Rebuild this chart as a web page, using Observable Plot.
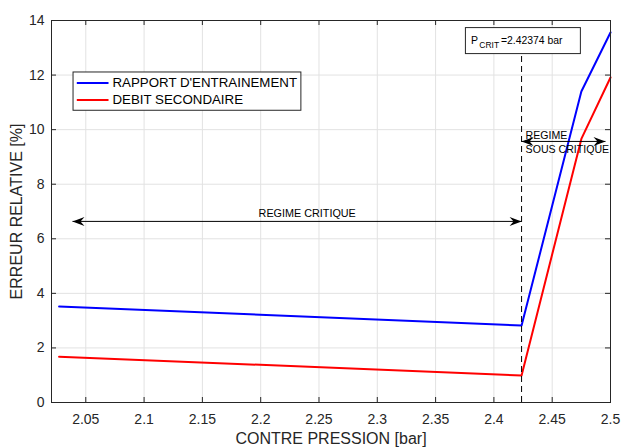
<!DOCTYPE html>
<html>
<head>
<meta charset="utf-8">
<script src="https://cdn.jsdelivr.net/npm/d3@7"></script>
<script src="https://cdn.jsdelivr.net/npm/@observablehq/plot@0.6"></script>
<style>
  html, body { margin: 0; padding: 0; background: #fff; }
  #chart { width: 621px; height: 448px; }
</style>
</head>
<body>
<div id="chart"></div>
<script>
// Back pressure (bar) and relative error (%) of the two quantities
const pression = [2.0271, 2.42374, 2.475, 2.5];
const rapportEntrainement = [3.52, 2.82, 11.40, 13.56];
const debitSecondaire = [1.68, 0.99, 9.66, 11.91];

// Critical back pressure
const pCrit = 2.42374;

// Axis ticks
const xTicks = [2.05, 2.1, 2.15, 2.2, 2.25, 2.3, 2.35, 2.4, 2.45, 2.5];
const yTicks = [0, 2, 4, 6, 8, 10, 12, 14];

// Series names and colours
const seriesNames = ["RAPPORT D'ENTRAINEMENT", "DEBIT SECONDAIRE"];
const seriesColors = ["#0000ff", "#ff0000"];

// Regime annotations (double arrows)
const regimes = [
  {x1: 2.0386, x2: pCrit, y: 6.637},
  {x1: pCrit, x2: 2.4957, y: 9.568}
];

const rows = (ys, name) => pression.map((x, i) => ({x, y: ys[i], serie: name}));
const data = [
  ...rows(rapportEntrainement, seriesNames[0]),
  ...rows(debitSecondaire, seriesNames[1])
];

// Filled arrow heads, tip at the anchor point
const headRight = {draw(ctx) { ctx.moveTo(0, 0); ctx.lineTo(-12, -4.5); ctx.lineTo(-8, 0); ctx.lineTo(-12, 4.5); ctx.closePath(); }};
const headLeft = {draw(ctx) { ctx.moveTo(0, 0); ctx.lineTo(12, -4.5); ctx.lineTo(8, 0); ctx.lineTo(12, 4.5); ctx.closePath(); }};

// Legend geometry (data units)
const legendBox = {x1: 2.0395, x2: 2.2349, y1: 10.692, y2: 12.095};
const legendRows = [
  {name: seriesNames[0], color: seriesColors[0], y: 11.707},
  {name: seriesNames[1], color: seriesColors[1], y: 11.084}
];
const critBox = {x1: 2.3760, x2: 2.4746, y1: 12.769, y2: 13.722};

const font = "'Liberation Sans', Arial, Helvetica, sans-serif";
const frameW = 621 - 51 - 11;
const frameH = 448 - 20 - 46;

const chart = Plot.plot({
  width: 621,
  height: 448,
  marginLeft: 51,
  marginRight: 11,
  marginTop: 20,
  marginBottom: 46,
  style: {fontFamily: font, fontSize: "14px", color: "#262626", background: "#fff"},
  x: {domain: [2.0206, 2.5], ticks: xTicks, tickFormat: d => String(d), tickSize: 0, tickPadding: 12, label: null},
  y: {domain: [0, 14], ticks: yTicks, tickFormat: d => String(d), tickSize: 0, tickPadding: 7, label: null},
  color: {domain: seriesNames, range: seriesColors},
  marks: [
    // grid
    Plot.ruleX(xTicks, {x: d => d, stroke: "#e2e2e2", strokeWidth: 1}),
    Plot.ruleY(yTicks, {y: d => d, stroke: "#e2e2e2", strokeWidth: 1}),

    // series
    Plot.line(data, {x: "x", y: "y", z: "serie", stroke: "serie", strokeWidth: 2}),

    // critical pressure marker
    Plot.ruleX([pCrit], {x: d => d, y1: 0, y2: critBox.y1, stroke: "#000", strokeWidth: 1, strokeDasharray: "6,4"}),
    Plot.rect([critBox], {x1: "x1", x2: "x2", y1: "y1", y2: "y2", fill: "#fff", stroke: "#262626", strokeWidth: 1}),
    Plot.text(["P"], {x: critBox.x1, y: 13.245, dx: 5, textAnchor: "start", fontSize: 10.5, fill: "#000"}),
    Plot.text(["CRIT"], {x: critBox.x1, y: 13.103, dx: 13.4, textAnchor: "start", fontSize: 8.5, fill: "#000"}),
    Plot.text(["=2.42374 bar"], {x: critBox.x1, y: 13.245, dx: 35, textAnchor: "start", fontSize: 10.4, fill: "#000"}),

    // regime arrows
    Plot.link(regimes, {x1: "x1", x2: "x2", y1: "y", y2: "y", stroke: "#000", strokeWidth: 1}),
    Plot.dot(regimes, {x: "x1", y: "y", r: 5, symbol: headLeft, fill: "#000", stroke: "none"}),
    Plot.dot(regimes, {x: "x2", y: "y", r: 5, symbol: headRight, fill: "#000", stroke: "none"}),
    Plot.text(["REGIME CRITIQUE"], {x: 2.2399, y: 6.938, textAnchor: "middle", fontSize: 10.8, fill: "#000"}),
    Plot.text(["REGIME"], {x: pCrit, y: 9.777, dx: 4, textAnchor: "start", fontSize: 10.6, fill: "#000"}),
    Plot.text(["SOUS CRITIQUE"], {x: pCrit, y: 9.275, dx: 4, textAnchor: "start", fontSize: 10.6, fill: "#000"}),

    // legend
    Plot.rect([legendBox], {x1: "x1", x2: "x2", y1: "y1", y2: "y2", fill: "#fff", stroke: "#262626", strokeWidth: 1}),
    Plot.link(legendRows, {x1: 2.0423, x2: 2.0695, y1: "y", y2: "y", stroke: "color", strokeWidth: 2}),
    Plot.text(legendRows, {x: 2.0729, y: "y", text: "name", textAnchor: "start", fontSize: 13.3, fill: "#000"}),

    // box and inward ticks
    Plot.frame({stroke: "#262626", strokeWidth: 1}),
    Plot.tickX(xTicks, {x: d => d, insetTop: frameH - 5, stroke: "#262626"}),
    Plot.tickX(xTicks, {x: d => d, insetBottom: frameH - 5, stroke: "#262626"}),
    Plot.tickY(yTicks, {y: d => d, insetRight: frameW - 5, stroke: "#262626"}),
    Plot.tickY(yTicks, {y: d => d, insetLeft: frameW - 5, stroke: "#262626"}),

    // axis titles
    Plot.text(["CONTRE PRESSION [bar]"], {frameAnchor: "bottom", dy: 36, lineAnchor: "middle", textAnchor: "middle", fontSize: 16, fill: "#262626"}),
    Plot.text(["ERREUR RELATIVE [%]"], {frameAnchor: "left", dx: -35, rotate: -90, lineAnchor: "middle", textAnchor: "middle", fontSize: 16, fill: "#262626"})
  ]
});

document.getElementById("chart").appendChild(chart);
</script>
</body>
</html>
